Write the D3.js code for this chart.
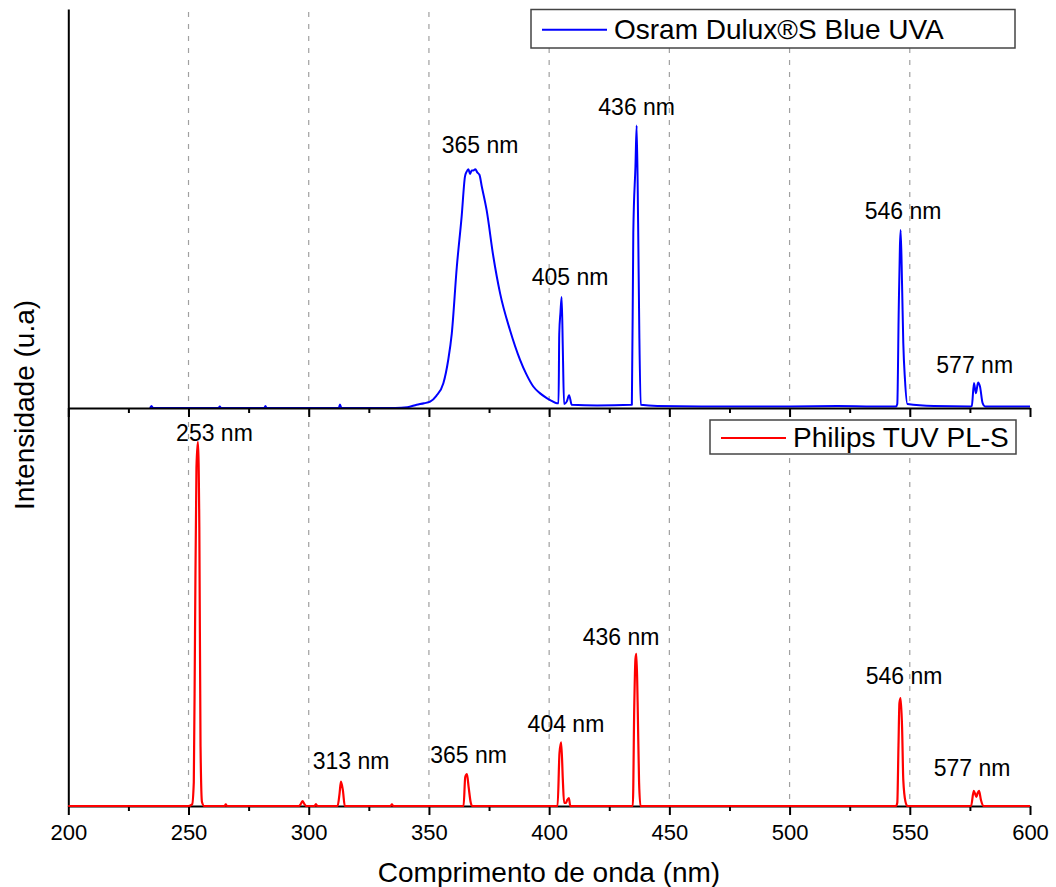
<!DOCTYPE html>
<html>
<head>
<meta charset="utf-8">
<script src="https://cdn.jsdelivr.net/npm/d3@7"></script>
<style>
  body { margin: 0; background: #fff; }
  text { font-family: "Liberation Sans", Arial, sans-serif; fill: #000; }
</style>
</head>
<body>
<svg id="chart" width="1056" height="887"></svg>
<script>
// x axis ticks
const majorTicks = [200, 250, 300, 350, 400, 450, 500, 550, 600];
const minorTicks = [225, 275, 325, 375, 425, 475, 525, 575];
const gridTicks = [250, 300, 350, 400, 450, 500, 550];

// Osram Dulux S Blue UVA spectrum (top panel)
const osramWl = [234, 234.6, 235.2, 262.5, 263, 263.5, 281.5, 282, 282.5, 312.5, 313, 313.6, 336, 341, 344.9, 348, 350.5, 353,
  356.0, 358, 359.5, 361.6, 363.6, 365.0, 365.7, 366.4, 367.1, 367.8, 368.5, 369.3, 370.1, 371.0, 372.0,
  374.0, 376.8, 379.6, 383.7, 387.9, 390.5, 393.4, 396, 399.0, 401, 403.2, 403.9, 404.2, 404.7, 405.2,
  405.7, 406.2, 407.3, 408.3, 409.4, 420, 434.4, 435.0, 435.9, 436.4, 437.0, 437.5, 438.1, 445, 470, 500,
  520, 535, 544.3, 544.8, 545.4, 545.9, 546.2, 546.8, 547.3, 548.0, 549.0, 560, 575.3, 575.8, 576.7,
  577.5, 578.4, 579.2, 580.3, 581.3, 590, 600];
const osramInt = [0, 5, 0, 0, 4, 0, 0, 5, 0, 0, 9, 0, 0, 2, 8, 12, 16, 30,
  62, 120, 187, 355, 481, 582, 594, 600, 588, 597, 597, 600, 592, 586, 556,
  497, 380, 288, 196, 121, 85, 54, 38, 25, 18, 12, 12, 186, 240, 279,
  144, 10, 16, 32, 8, 6, 8, 440, 608, 710, 466, 189, 8, 5, 4, 4,
  5, 4, 4, 10, 247, 407, 447, 306, 163, 71, 10, 5, 4, 5, 63,
  37, 64, 54, 12, 4, 4, 4];

// Philips TUV PL-S spectrum (bottom panel)
const philipsWl = [200, 250, 251.5, 252.2, 252.7, 253.3, 253.9, 254.5, 255.0, 255.6, 256.5, 265, 265.5, 266, 296, 296.5,
  297.4, 298.3, 299, 302.5, 303, 303.5, 312.0, 312.8, 313.4, 314.2, 315.0, 334, 334.6, 335.2, 364.4, 365.1,
  365.8, 366.5, 367.4, 368, 403.5, 404.3, 405.0, 405.7, 406.2, 407.0, 407.5, 408.2, 408.8, 434.8, 435.4,
  435.9, 436.3, 436.8, 437.4, 438, 544.3, 544.8, 545.3, 545.7, 546.2, 546.8, 547.3, 548.2, 549.0, 575.5,
  576.6, 577.2, 577.7, 578.2, 578.8, 579.6, 580.6, 600];
const philipsInt = [0, 0, 4, 60, 430, 850, 915, 700, 150, 10, 0, 0, 4, 0, 0, 3,
  12, 4, 0, 0, 5, 0, 0, 30, 61, 40, 0, 0, 4, 0, 0, 73,
  80, 48, 8, 0, 0, 133, 160, 65, 8, 8, 15, 20, 0, 0, 250,
  370, 382, 260, 60, 0, 0, 8, 153, 259, 271, 196, 65, 11, 0, 0,
  38, 30, 23, 32, 38, 15, 0, 0];

// peak labels: text, label centre (nm), label baseline (intensity)
const osramLabels = ["365 nm", "405 nm", "436 nm", "546 nm", "577 nm"];
const osramLabelNm = [371.3, 408.7, 436.4, 547.2, 577.0];
const osramLabelInt = [641, 309, 736, 475, 88];
const philipsLabels = ["253 nm", "313 nm", "365 nm", "404 nm", "436 nm", "546 nm", "577 nm"];
const philipsLabelNm = [260.8, 317.6, 366.5, 407.0, 429.9, 547.6, 575.9];
const philipsLabelInt = [917, 93, 108, 186, 405, 307, 75];

const svg = d3.select("#chart");

const x = d3.scaleLinear().domain([200, 600]).range([68.3, 1030]);
const yTop = d3.scaleLinear().domain([0, 1000]).range([408, 10]);
const yBot = d3.scaleLinear().domain([0, 1000]).range([806, 408]);

// dashed grid lines
const grid = svg.append("g");
grid.selectAll("line.top")
  .data(gridTicks)
  .enter().append("line")
  .attr("x1", d => x(d)).attr("x2", d => x(d))
  .attr("y1", 12).attr("y2", 408);
grid.selectAll("line.bot")
  .data(gridTicks)
  .enter().append("line")
  .attr("x1", d => x(d)).attr("x2", d => x(d))
  .attr("y1", 410).attr("y2", 806);
grid.selectAll("line")
  .attr("stroke", "#a0a0a0")
  .attr("stroke-width", 1.2)
  .attr("stroke-dasharray", "5,7");

const line = y => d3.line()
  .curve(d3.curveMonotoneX)
  .x(d => x(d[0]))
  .y(d => y(d[1]));

// blue spectrum (under the axis)
const osram = osramWl.map((w, i) => [w, osramInt[i]]);
svg.append("path")
  .datum(osram)
  .attr("fill", "none")
  .attr("stroke", "#0000ff")
  .attr("stroke-width", 2)
  .attr("stroke-linejoin", "round")
  .attr("d", line(yTop));

// axes
function xAxis(y0, withLabels) {
  svg.append("g")
    .attr("transform", `translate(0,${y0})`)
    .call(d3.axisBottom(x).tickValues(minorTicks).tickSize(5).tickSizeOuter(0).tickFormat(""))
    .call(g => g.select(".domain").remove());
  const g = svg.append("g")
    .attr("transform", `translate(0,${y0})`)
    .call(d3.axisBottom(x).tickValues(majorTicks).tickSize(9).tickSizeOuter(0).tickPadding(9)
      .tickFormat(withLabels ? d3.format("d") : ""));
  g.selectAll("text").attr("font-size", 22).attr("fill", "#000")
    .attr("font-family", "Liberation Sans, Arial, sans-serif");
}
xAxis(408, false);
xAxis(806, true);
svg.selectAll(".domain, .tick line").attr("stroke", "#000").attr("stroke-width", 2);

// left axis line
svg.append("g")
  .attr("transform", "translate(68.3,0)")
  .call(d3.axisLeft(d3.scaleLinear().domain([0, 1]).range([806, 9])).tickValues([]).tickSizeOuter(0))
  .select(".domain").attr("stroke", "#000").attr("stroke-width", 2);

// red spectrum (over the axis)
const philips = philipsWl.map((w, i) => [w, philipsInt[i]]);
svg.append("path")
  .datum(philips)
  .attr("fill", "none")
  .attr("stroke", "#ff0000")
  .attr("stroke-width", 2.2)
  .attr("stroke-linejoin", "round")
  .attr("d", line(yBot));

// peak labels
function labels(txt, nm, val, y) {
  svg.append("g").selectAll("text")
    .data(txt)
    .enter().append("text")
    .attr("x", (d, i) => x(nm[i]))
    .attr("y", (d, i) => y(val[i]))
    .attr("text-anchor", "middle")
    .attr("font-size", 23)
    .text(d => d);
}
labels(osramLabels, osramLabelNm, osramLabelInt, yTop);
labels(philipsLabels, philipsLabelNm, philipsLabelInt, yBot);

// legends
function legend(x0, y0, w, h, color, name) {
  const g = svg.append("g").attr("transform", `translate(${x0},${y0})`);
  g.append("rect")
    .attr("width", w).attr("height", h)
    .attr("fill", "#fff").attr("stroke", "#444").attr("stroke-width", 1.5);
  g.append("line")
    .attr("x1", 11).attr("x2", 76)
    .attr("y1", h / 2 + 1).attr("y2", h / 2 + 1)
    .attr("stroke", color).attr("stroke-width", 2.2);
  g.append("text")
    .attr("x", 83).attr("y", h / 2 + 10)
    .attr("font-size", 28)
    .text(name);
}
legend(531, 9.5, 484, 38.5, "#0000ff", "Osram Dulux®S Blue UVA");
legend(710, 420, 306, 34, "#ff0000", "Philips TUV PL-S");

// axis titles
svg.append("text")
  .attr("x", 549).attr("y", 882)
  .attr("text-anchor", "middle")
  .attr("font-size", 28)
  .text("Comprimento de onda (nm)");
svg.append("text")
  .attr("transform", "translate(34,405) rotate(-90)")
  .attr("text-anchor", "middle")
  .attr("font-size", 28)
  .text("Intensidade (u.a)");
</script>
</body>
</html>
